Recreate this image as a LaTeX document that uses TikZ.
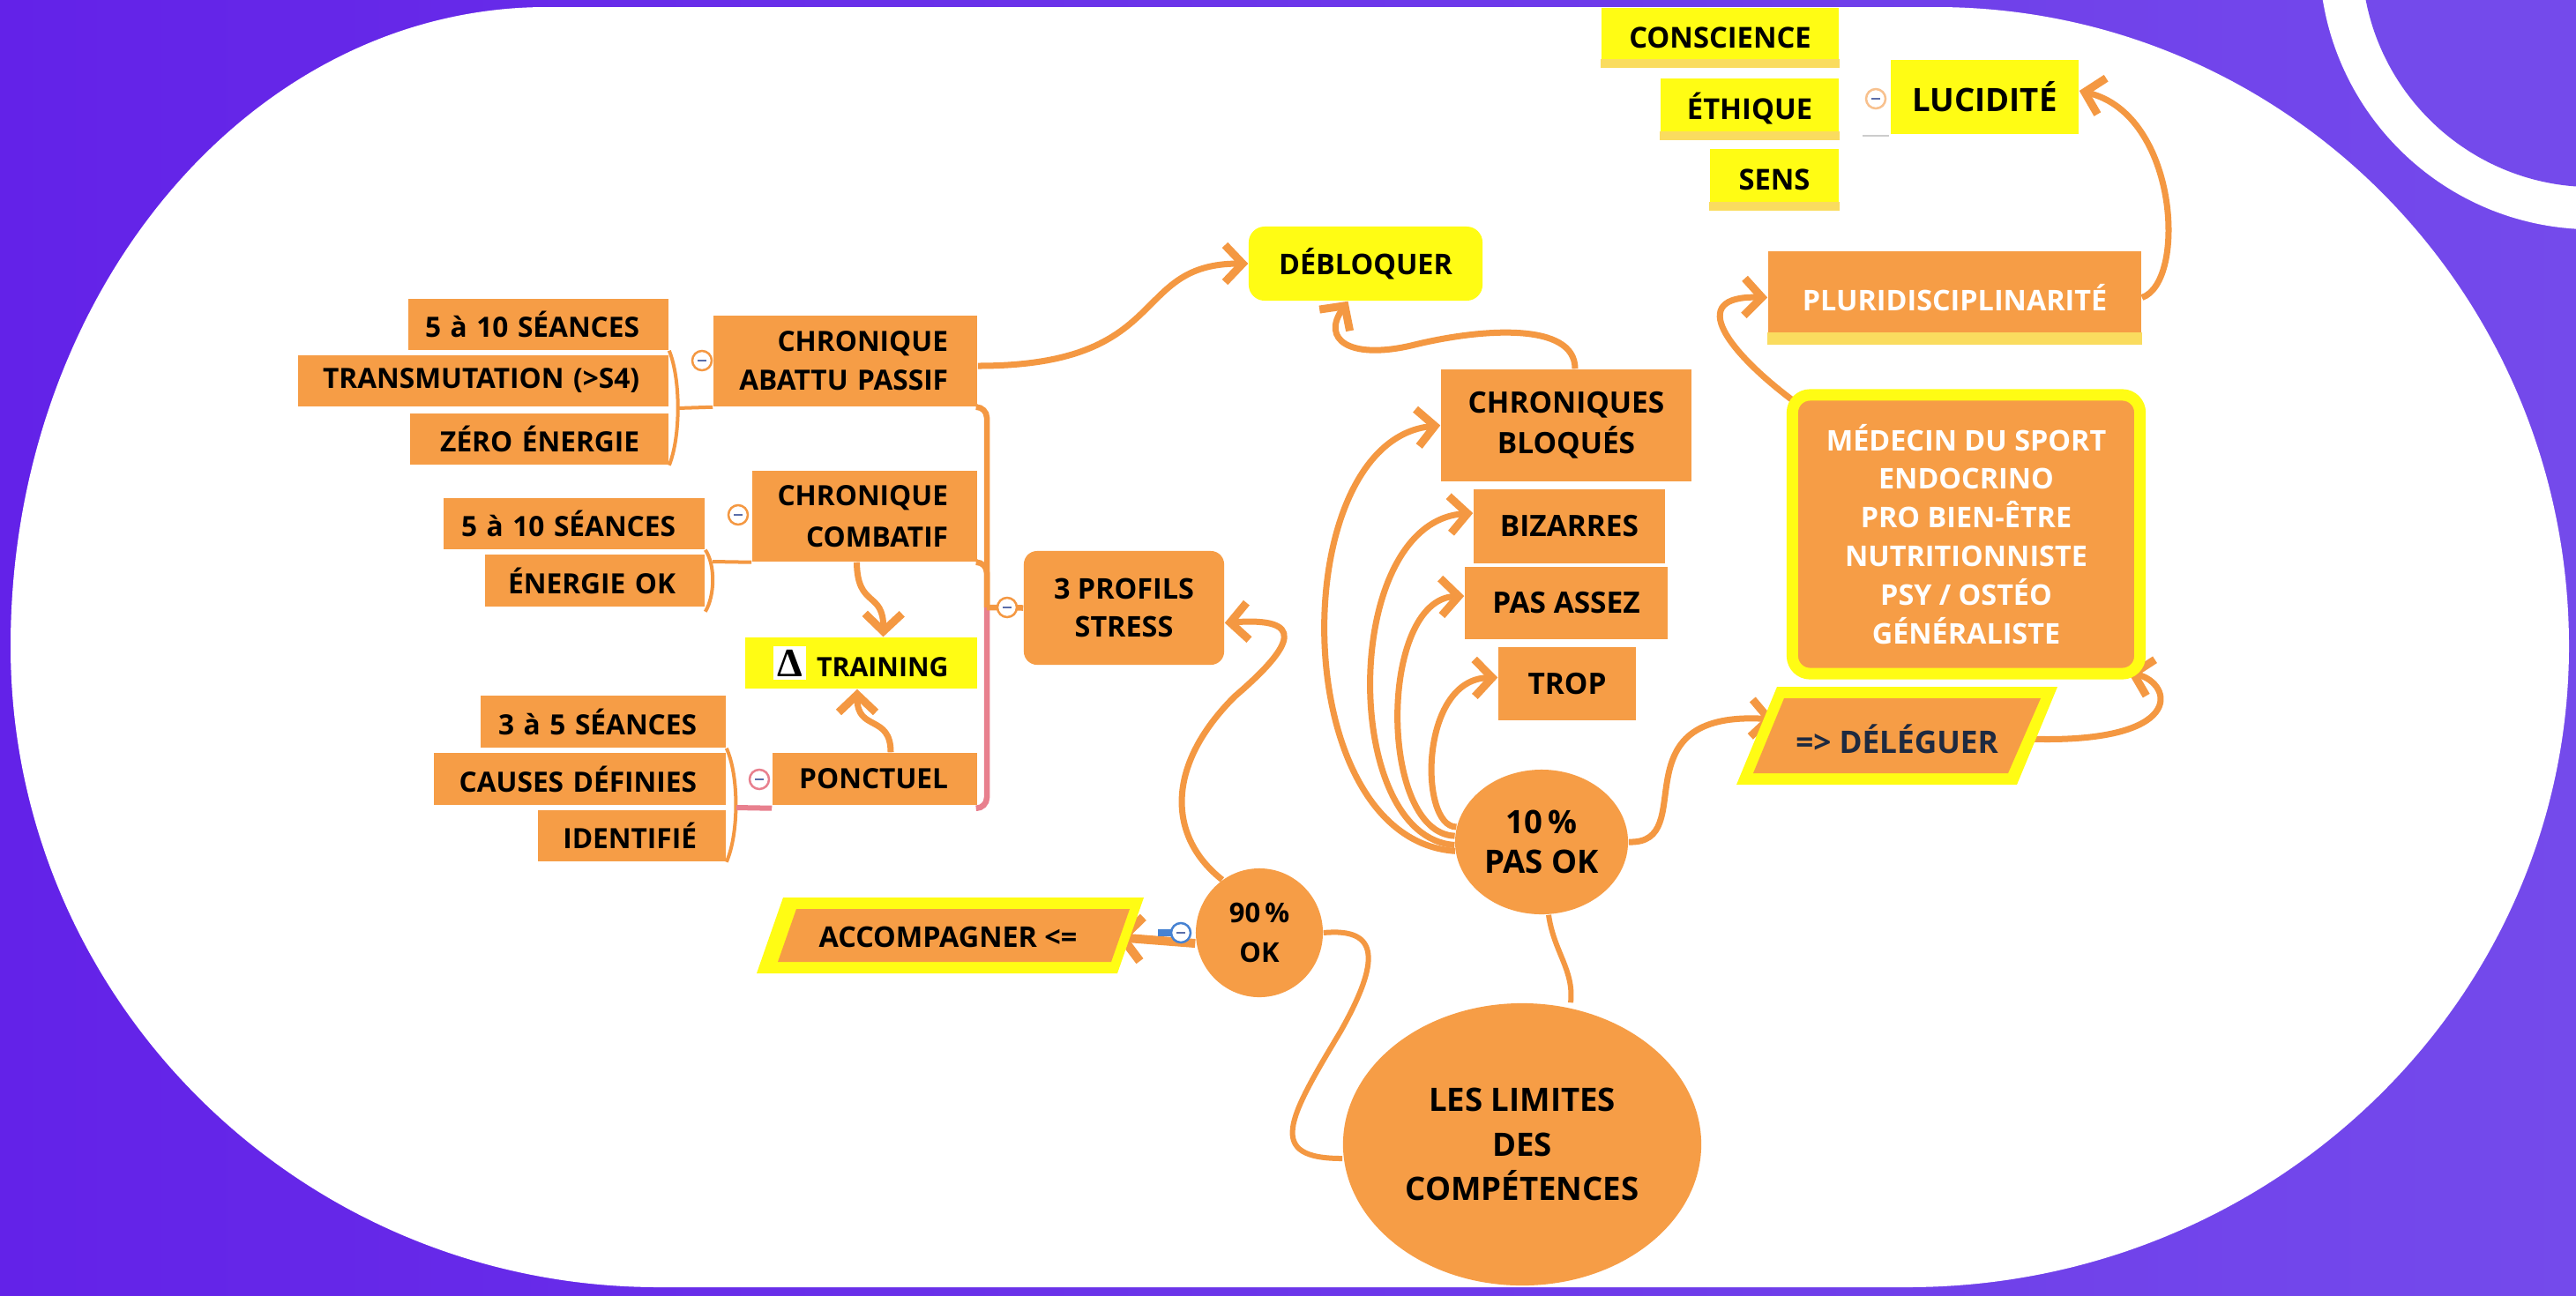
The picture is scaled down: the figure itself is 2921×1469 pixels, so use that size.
\documentclass[tikz,border=0pt]{standalone}
\usepackage{fontspec}
\setmainfont{Open Sans}
\newfontfamily\deltafont{Liberation Serif}
\usetikzlibrary{shapes.geometric,arrows.meta}

\definecolor{bgl}{RGB}{99,34,232}
\definecolor{bgr}{RGB}{116,74,235}
\definecolor{orng}{RGB}{246,157,70}
\definecolor{lnk}{RGB}{244,152,66}
\definecolor{ylw}{RGB}{255,252,20}
\definecolor{strip}{RGB}{250,220,95}
\definecolor{pnk}{RGB}{232,128,142}
\definecolor{navy}{RGB}{30,42,64}
\definecolor{mns}{RGB}{90,110,170}
\definecolor{bluish}{RGB}{70,130,210}

\pgfdeclarelayer{bg}
\pgfdeclarelayer{lines}
\pgfsetlayers{bg,lines,main}

\newcommand\ftsz[2]{\fontsize{#1}{#2}\selectfont\bfseries}
\newcommand\rp{\hspace*{0.23cm}\mbox{}}

\tikzset{
  box/.style={fill=orng, inner sep=0pt, text=black},
  lbox/.style={box, align=right, inner xsep=0.1cm, font=\ftsz{9}{12.5}},
  ybox/.style={fill=ylw, inner sep=0pt, text=black},
  bubble/.style={ellipse, fill=orng, inner sep=0pt, align=center},
  link/.style={draw=lnk, line width=0.07cm, -{Straight Barb[length=0.2cm, width=0.42cm, line width=0.09cm]}},
  fat/.style={draw=lnk, line width=0.1cm, -{Straight Barb[length=0.22cm, width=0.5cm, line width=0.1cm]}},
  wire/.style={draw=lnk, line width=0.065cm},
  brace/.style={draw=lnk, line width=0.04cm},
  fold/.style={circle, draw=lnk, fill=white, line width=0.025cm, minimum size=0.22cm, inner sep=0pt,
    path picture={\draw[mns, line width=0.02cm] ([xshift=-0.05cm]path picture bounding box.center) -- ([xshift=0.05cm]path picture bounding box.center);}},
}

\begin{document}
\begin{tikzpicture}[x=0.01cm, y=-0.01cm]
\useasboundingbox (0,0) rectangle (2921,1469);

\begin{pgfonlayer}{bg}
\shade[left color=bgl, right color=bgr] (0,0) rectangle (2921,1469);
\fill[white] (620,8) -- (2195,8) .. controls (2592,8) and (2913,333) .. (2913,733)
  .. controls (2913,1134) and (2577,1460) .. (2163,1460) -- (747,1460)
  .. controls (341,1460) and (12,1134) .. (12,733)
  .. controls (12,333) and (284,8) .. (620,8) -- cycle;
\fill[white] (2940,-50) circle[radius=3.1cm];
\fill[bgr] (2940,-50) circle[radius=2.62cm];
\end{pgfonlayer}

% three profiles
\node[lbox, text width=2.75cm, minimum height=0.58cm] (s1) at (610.5,368) {5 à 10 SÉANCES\rp};
\node[lbox, text width=4.00cm, minimum height=0.58cm] (trans) at (548,432) {TRANSMUTATION (>S4)\rp};
\node[lbox, text width=2.73cm, minimum height=0.58cm] (zero) at (611.5,498) {ZÉRO ÉNERGIE\rp};
\node[lbox, text width=2.79cm, minimum height=1.03cm] (cap) at (958.5,409.5) {CHRONIQUE\rp\\ABATTU PASSIF\rp};
\node[lbox, text width=2.76cm, minimum height=0.58cm] (s2) at (651,594) {5 à 10 SÉANCES\rp};
\node[lbox, text width=2.29cm, minimum height=0.59cm] (eok) at (674.5,658.5) {ÉNERGIE OK\rp};
\node[lbox, text width=2.35cm, minimum height=1.03cm, font=\ftsz{9}{13.4}] (ccb) at (980.5,585.5) {CHRONIQUE\rp\\COMBATIF\rp};
\node[lbox, text width=2.58cm, minimum height=0.59cm] (s3) at (684,818.5) {3 à 5 SÉANCES\rp};
\node[lbox, text width=3.11cm, minimum height=0.59cm] (cdef) at (657.5,883.5) {CAUSES DÉFINIES\rp};
\node[lbox, text width=1.93cm, minimum height=0.58cm] (ident) at (716.5,948) {IDENTIFIÉ\rp};
\node[lbox, text width=2.12cm, minimum height=0.59cm] (ponct) at (992,883.5) {PONCTUEL\rp};
\node[ybox, minimum width=2.63cm, minimum height=0.58cm, font=\ftsz{8.6}{10}] (train) at (976.5,752)
  {{\fboxsep=0.04cm\colorbox{white}{\deltafont\bfseries\fontsize{13}{13}\selectfont Δ}}\hspace{0.12cm}TRAINING};
\node[box, rounded corners=0.15cm, minimum width=2.27cm, minimum height=1.29cm, align=center, font=\ftsz{9.2}{12.2}] (prof) at (1274.5,689.5) {3 PROFILS\\STRESS};

% centre
\node[ybox, rounded corners=0.18cm, minimum width=2.65cm, minimum height=0.84cm, font=\ftsz{9.2}{11}] (deb) at (1548.5,299) {DÉBLOQUER};
\node[box, minimum width=2.84cm, minimum height=1.27cm, align=center, font=\ftsz{9.5}{13}] (chb) at (1776,482.5) {CHRONIQUES\\BLOQUÉS};
\node[box, minimum width=2.17cm, minimum height=0.84cm, font=\ftsz{9.5}{11}] (biz) at (1779.5,597) {BIZARRES};
\node[box, minimum width=2.30cm, minimum height=0.82cm, font=\ftsz{9.5}{11}] (pas) at (1776,684) {PAS ASSEZ};
\node[box, minimum width=1.56cm, minimum height=0.83cm, font=\ftsz{9.5}{11}] (trop) at (1777,775.5) {TROP};
\node[bubble, minimum width=1.96cm, minimum height=1.64cm, font=\ftsz{10.4}{13}] (ten) at (1748,955) {10\,\%\\PAS OK};
\node[bubble, minimum width=1.44cm, minimum height=1.46cm, font=\ftsz{8.8}{13}] (ok) at (1428,1058) {90\,\%\\OK};
\node[bubble, minimum width=4.06cm, minimum height=3.20cm, font=\ftsz{10.4}{14.3}] (lim) at (1726,1298) {LES LIMITES\\DES\\COMPÉTENCES};

\fill[ylw] (888,1018) -- (1297,1018) -- (1267,1104) -- (858,1104) -- cycle;
\fill[orng] (903,1031) -- (1281,1031) -- (1260,1091) -- (882,1091) -- cycle;
\node[minimum width=3.8cm, font=\ftsz{9.2}{11}] (acc) at (1075,1063) {ACCOMPAGNER <=};

% right side
\fill[ylw] (2015,779) -- (2333,779) -- (2287,890) -- (1969,890) -- cycle;
\fill[orng] (2023,792) -- (2314,792) -- (2277,877) -- (1988,877) -- cycle;
\node[minimum width=2.9cm, text=navy, font=\ftsz{10}{12}] (dlg) at (2151,838) {=> DÉLÉGUER};
\node[box, draw=ylw, line width=0.13cm, rounded corners=0.2cm, minimum width=3.94cm, minimum height=3.16cm, align=center, text=white, font=\ftsz{9.2}{12.5}] (med) at (2229.5,606)
  {MÉDECIN DU SPORT\\ENDOCRINO\\PRO BIEN-ÊTRE\\NUTRITIONNISTE\\PSY / OSTÉO\\GÉNÉRALISTE};
\node[box, minimum width=4.23cm, minimum height=1.05cm, text=white, font=\ftsz{9.2}{11}] (pluri) at (2216.5,337.5) {PLURIDISCIPLINARITÉ};
\fill[strip] ([yshift=0.14cm]pluri.south west) rectangle (pluri.south east);
\node[ybox, minimum width=2.13cm, minimum height=0.84cm, font=\ftsz{10.4}{12}] (luc) at (2250.5,110) {LUCIDITÉ};
\node[ybox, minimum width=2.69cm, minimum height=0.67cm, font=\ftsz{9.3}{11}] (consc) at (1950.5,42.5) {CONSCIENCE};
\fill[strip] ([yshift=0.1cm]consc.south west) rectangle (consc.south east);
\node[ybox, minimum width=2.02cm, minimum height=0.69cm, font=\ftsz{9.3}{11}] (eth) at (1984,123.5) {ÉTHIQUE};
\fill[strip] ([yshift=0.1cm]eth.south west) rectangle (eth.south east);
\node[ybox, minimum width=1.46cm, minimum height=0.69cm, font=\ftsz{9.3}{11}] (sens) at (2012,203.5) {SENS};
\fill[strip] ([yshift=0.1cm]sens.south west) rectangle (sens.south east);

\begin{pgfonlayer}{lines}
\draw[brace] (s1.south east) .. controls (772,430) and (772,495) .. (zero.south east);
\coordinate (b1) at (768,463);
\draw[brace] (b1) -- (cap.south west);
\draw[brace] (s2.south east) .. controls (811,640) and (811,675) .. ([yshift=-0.05cm]eok.south east);
\coordinate (b2) at (808,637);
\draw[brace] (b2) -- (ccb.south west);
\draw[brace] (s3.south east) .. controls (838,880) and (838,945) .. (ident.south east);
\coordinate (b3) at (835,916);
\draw[brace, draw=pnk, line width=0.06cm] (b3) -- ([yshift=-0.03cm]ponct.south west);

\coordinate (fork) at (1119,689);
\draw[wire, rounded corners=0.12cm] (cap.south east) -| (fork);
\draw[wire, rounded corners=0.12cm] (ccb.south east) -| (fork);
\draw[wire, draw=pnk, rounded corners=0.12cm] (fork) |- ([yshift=-0.03cm]ponct.south east);
\draw[wire] (fork) -- (prof.west);

\draw[link] ([xshift=-0.09cm]ccb.south) .. controls (972,690) and (1002,670) .. ([xshift=0.25cm]train.north);
\draw[link] ([xshift=0.18cm]ponct.north) .. controls (1010,810) and (972,830) .. ([xshift=-0.045cm]train.south);

\draw[link] ([yshift=-0.055cm]cap.east) .. controls (1330,415) and (1280,299) .. (deb.west);
\draw[link] ([xshift=0.1cm]chb.north) .. controls (1786,365) and (1680,372) .. (1600,392)
  .. controls (1530,408) and (1498,385) .. ([xshift=-0.2cm]deb.south);

\draw[link] (ten.186) .. controls (1457,952) and (1457,500) .. (chb.west);
\draw[link] (ten.182) .. controls (1520,950) and (1520,592) .. ([yshift=0.15cm]biz.west);
\draw[link] (ten.176) .. controls (1563,945) and (1563,680) .. ([yshift=0.08cm]pas.west);
\draw[link] (ten.170) .. controls (1609,938) and (1609,770) .. ([yshift=0.07cm]trop.west);

\draw[link] (ten.east) .. controls (1930,958) and (1830,805) .. ([shift={(0.07cm,0.22cm)}]dlg.west);
\draw[link] (dlg.east) .. controls (2480,845) and (2465,775) .. ([shift={(-0.2cm,0.08cm)}]med.south east);
\draw[link] ([shift={(0.1cm,-0.15cm)}]med.north west) .. controls (1960,400) and (1910,335) .. (pluri.west);
\draw[link] (pluri.east) .. controls (2480,320) and (2470,130) .. ([yshift=0.07cm]luc.east);

\draw[link] (ok.125) .. controls (1325,950) and (1320,870) .. (1400,790)
  .. controls (1470,730) and (1480,700) .. ([yshift=-0.17cm]prof.east);
\draw[fat] ([yshift=-0.12cm]ok.west) -- (acc.east);
\draw[wire, line width=0.06cm] (ok.east) .. controls (1565,1052) and (1565,1090) .. (1520,1170)
  .. controls (1460,1270) and (1435,1314) .. ([yshift=-0.16cm]lim.west);
\draw[wire, line width=0.06cm] ([xshift=0.08cm]ten.south) .. controls (1762,1080) and (1785,1100) .. ([xshift=0.55cm]lim.north);
\end{pgfonlayer}

\node[fold] (f1) at (796,409) {};
\node[fold] (f2) at (837,584) {};
\node[fold, draw=pnk] (f3) at (861,884) {};
\node[fold] (f4) at (1142,689) {};
\node[fold, draw=lnk!60] (f5) at (2127,112) {};
\draw[black!20, line width=0.02cm] ([shift={(-0.15cm,-0.42cm)}]f5.center) -- ++(0.3cm,0);
\draw[bluish, line width=0.08cm] ([xshift=-0.42cm]ok.west) -- ([xshift=-0.1cm]ok.west);
\node[fold, draw=bluish] (f6) at (1339,1058) {};

\end{tikzpicture}
\end{document}
